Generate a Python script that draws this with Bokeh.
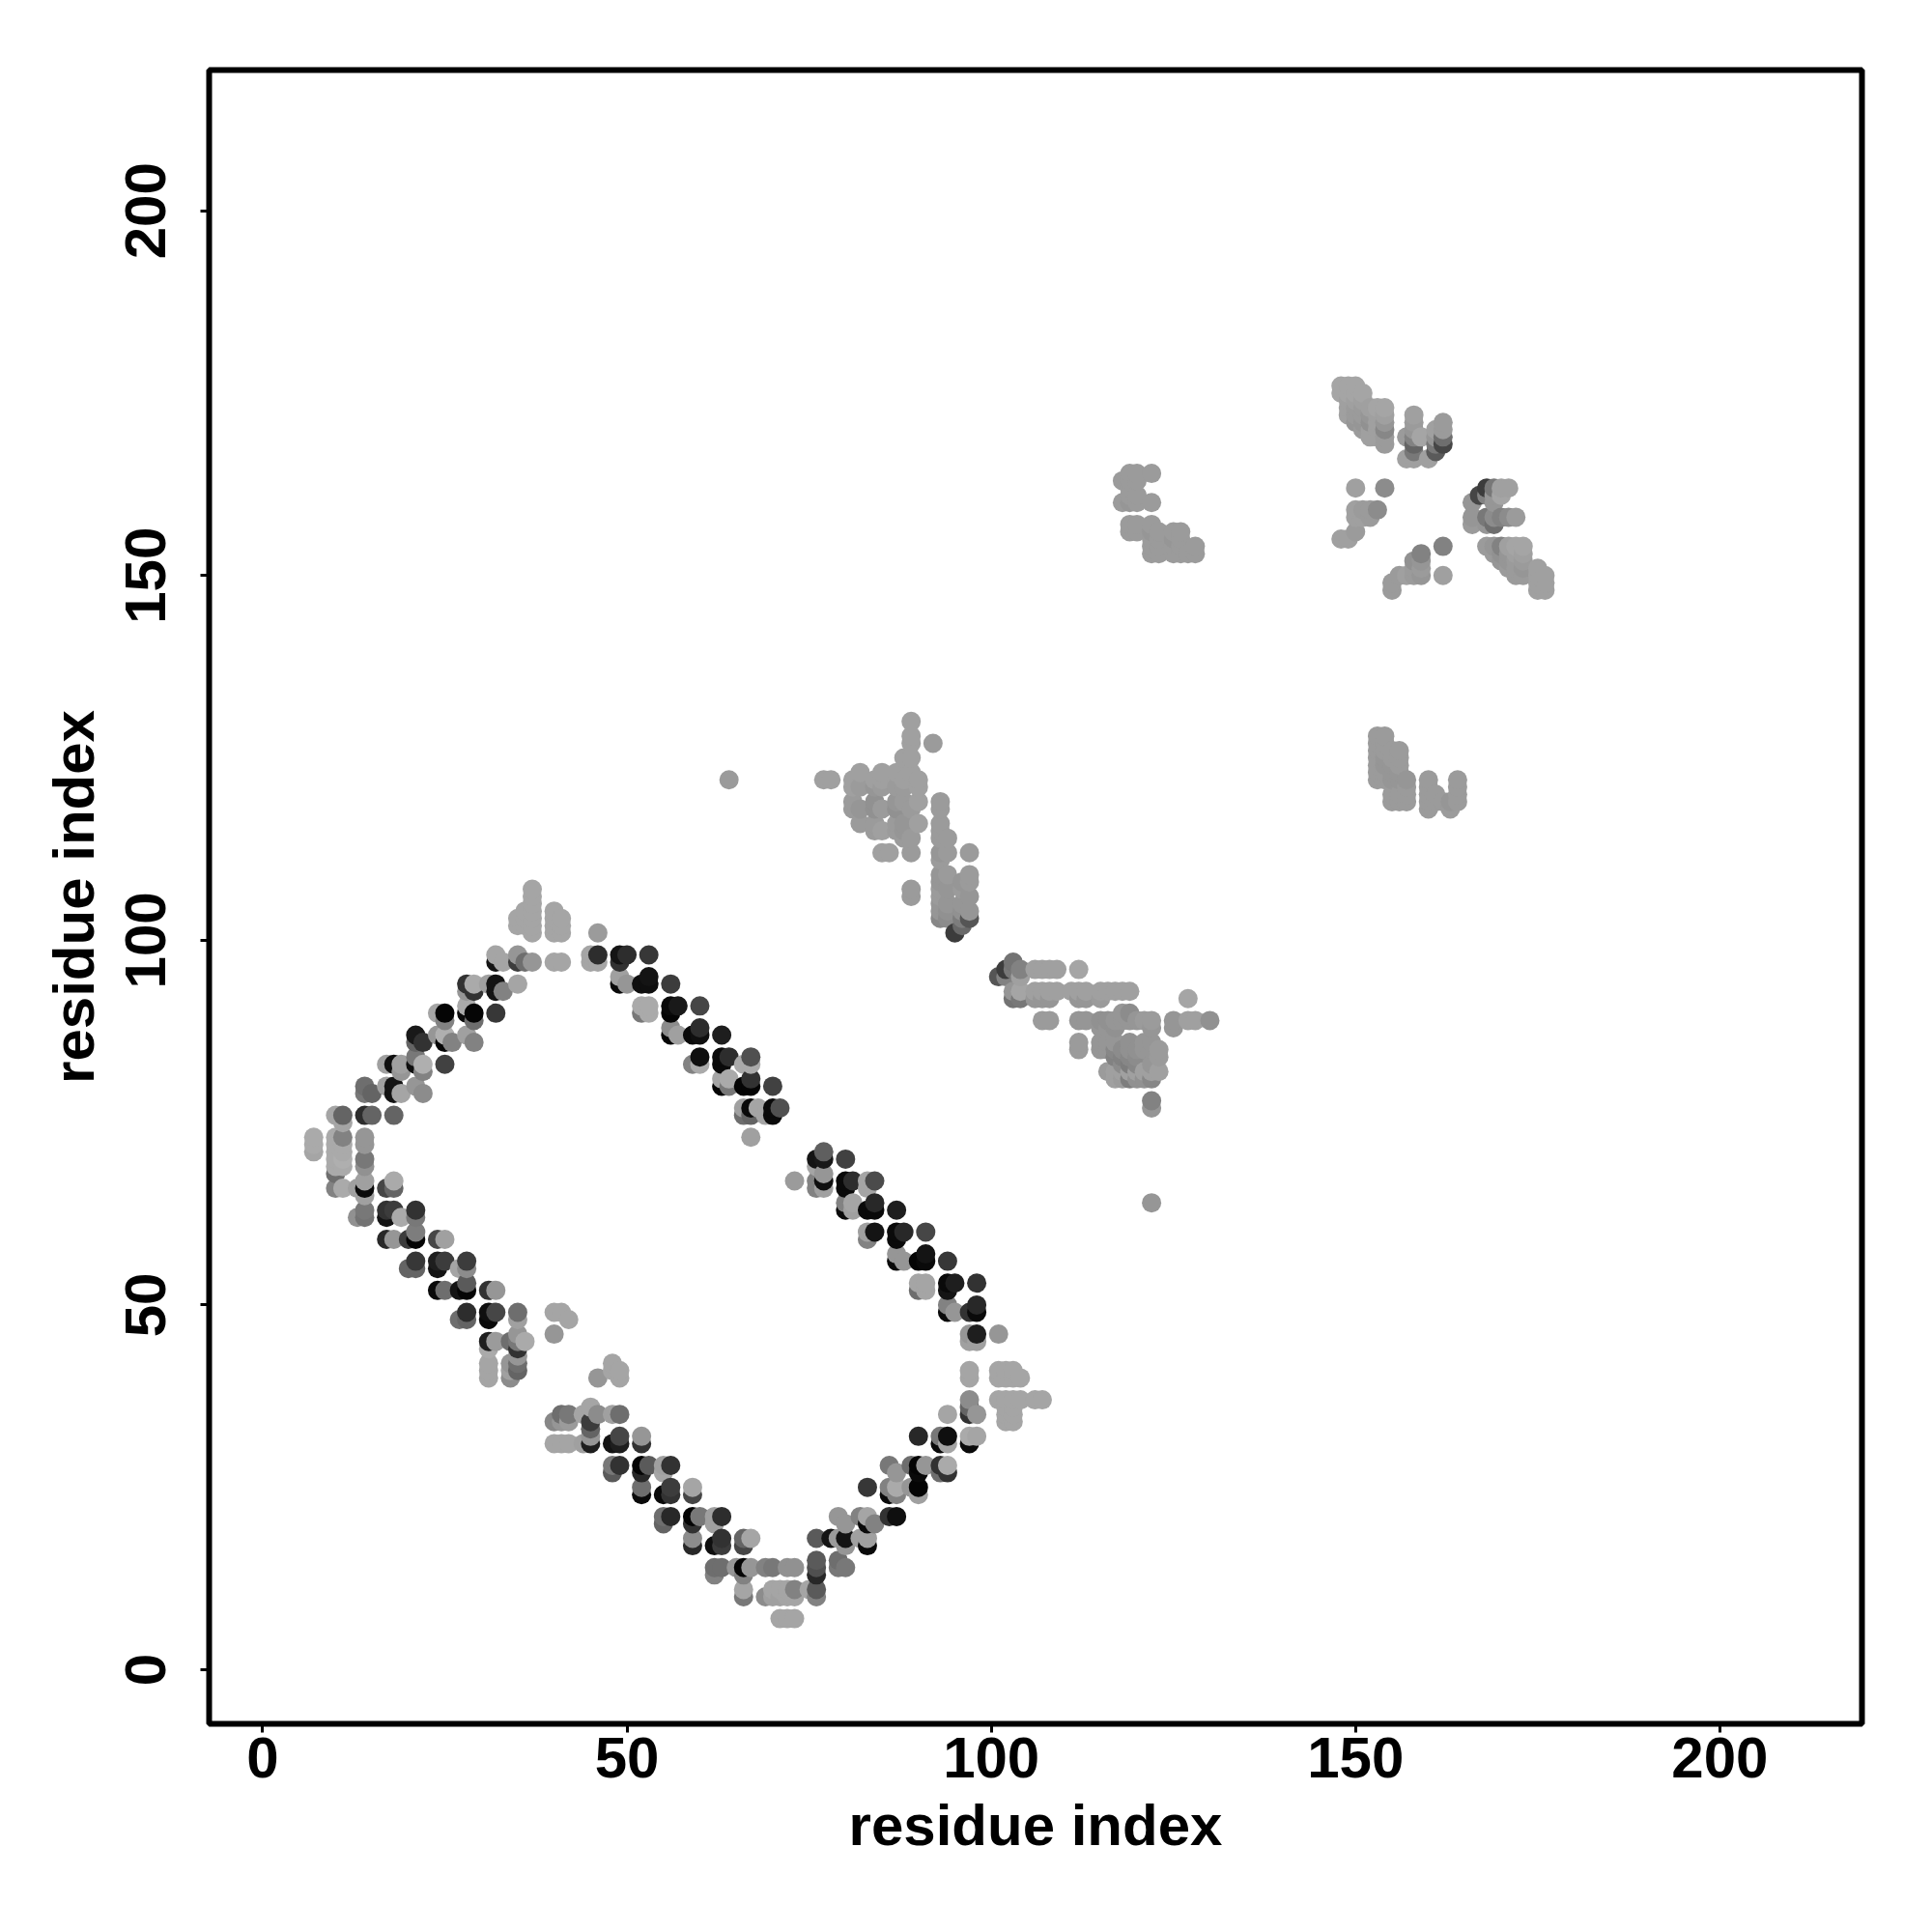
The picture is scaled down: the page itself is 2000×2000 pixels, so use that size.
from bokeh.plotting import figure
from bokeh.models import ColumnDataSource, FixedTicker
from bokeh.embed import file_html
from bokeh.resources import INLINE

x_ticks = [0, 50, 100, 150, 200]
y_ticks = [0, 50, 100, 150, 200]
x_title = "residue index"
y_title = "residue index"

# {residue_j: [(residue_i, grey), ...]}
arm_upper_left = {
 107:[(37,165)],106:[(37,165)],105:[(37,165)],
 104:[(36,165),(37,165),(40,165)],
 103:[(35,165),(36,165),(37,165),(40,165),(41,165)],
 102:[(35,165),(36,165),(37,165),(40,165),(41,165)],
 101:[(37,165),(40,165),(41,165)],
 98:[(32,165),(35,150)],
 97:[(32,20),(33,165),(35,60),(36,110),(37,150),(40,165),(41,165)],
 94:[(28,50),(29,170),(31,160),(32,20),(35,165)],
 93:[(28,150),(29,50),(32,20),(33,130)],
 91:[(28,170)],
 90:[(24,165),(25,5),(28,10),(29,5),(32,55)],
 89:[(25,130),(29,110)],
 87:[(21,25),(24,150),(25,175),(28,160)],
 86:[(21,100),(22,50),(25,5),(26,130),(29,130)],
 84:[(21,120)],
 83:[(17,160),(18,15),(19,160),(21,15),(22,175),(25,65)],
 82:[(19,150),(22,130)],
 80:[(14,110),(17,160),(18,20),(21,150)],
 79:[(14,120),(15,100),(18,20),(19,165),(22,140)],
 76:[(10,165),(11,100),(14,45),(15,100),(18,100)],
 75:[(11,165)],
 73:[(7,170),(10,170),(11,130),(14,150)],
}
arm_upper_right = {
 101:[(46,155)],
 98:[(45,165),(46,45),(49,20),(50,45),(53,55)],
 97:[(45,165),(46,165),(49,50)],
 95:[(49,160),(53,20)],
 94:[(49,10),(50,150),(52,15),(53,15),(56,60)],
 91:[(52,170),(53,170),(56,10),(57,25),(60,70)],
 90:[(52,120),(53,170),(56,5)],
 88:[(56,140),(60,45)],
 87:[(56,5),(57,160),(59,10),(60,15),(63,30)],
 84:[(60,15),(63,10),(64,45),(67,80)],
 83:[(59,130),(60,170),(63,10),(66,170),(67,170)],
 81:[(63,165),(64,170),(67,50)],
 80:[(63,5),(64,120),(66,5),(67,5),(70,65)],
 77:[(66,160),(67,10),(68,165),(70,10),(71,80)],
 76:[(66,110),(67,100),(69,165),(70,10)],
 73:[(67,160)],
}
arm_lower_left = {
 72:[(7,170),(10,170),(11,170),(14,150)],
 71:[(7,165),(10,170),(11,170)],
 70:[(10,170),(11,175),(14,120)],
 69:[(10,170),(11,170),(14,145)],
 68:[(10,110)],
 67:[(14,160),(18,170)],
 66:[(10,130),(11,170),(13,160),(14,10),(17,70),(18,100)],
 65:[(14,160)],
 63:[(14,120),(17,50),(18,60),(21,50)],
 62:[(13,145),(14,115),(17,20),(19,170),(21,120)],
 60:[(21,125)],
 59:[(17,40),(18,150),(20,60),(21,5),(24,70),(25,160)],
 56:[(21,55),(24,30),(25,60),(28,60)],
 55:[(20,100),(21,100),(24,20),(27,165),(28,140)],
 53:[(28,90)],
 52:[(24,10),(25,110),(27,20),(28,5),(31,50),(32,150)],
 49:[(28,45),(31,15),(32,70),(35,110),(40,165),(41,165)],
 48:[(27,110),(28,100),(31,10),(35,160),(42,165)],
 46:[(35,150),(40,150)],
 45:[(31,30),(32,155),(34,110),(35,120),(36,170)],
 44:[(31,170),(35,50)],
 43:[(35,150)],
 42:[(31,165),(34,150),(35,110),(48,165)],
 41:[(31,165),(34,160),(35,100),(48,165),(49,165)],
 40:[(31,165),(34,140),(46,150),(49,165)],
}
arm_bottom = {
 36:[(45,165)],
 35:[(41,110),(42,120),(44,165),(46,140),(48,160),(49,110)],
 34:[(40,135),(41,150),(42,155),(45,60)],
 33:[(45,100)],
 32:[(45,150),(49,70),(52,150),(90,40),(93,120),(94,15),(97,170),(98,165)],
 31:[(40,165),(41,165),(42,165),(44,160),(45,30),(48,20),(49,30),(52,50),(93,10),(94,165),(97,10)],
 28:[(48,120),(49,50),(52,5),(53,90),(55,160),(56,50),(86,120),(89,110),(90,5),(91,150),(93,50),(94,170)],
 27:[(48,90),(52,40),(55,165),(87,150),(90,10),(93,110),(94,50)],
 25:[(52,110),(56,60),(59,165),(83,55),(86,130),(87,170),(89,150),(90,5)],
 24:[(52,10),(55,10),(56,50),(59,70),(86,10),(87,130),(90,160)],
 21:[(55,110),(56,40),(59,5),(60,120),(62,160),(63,45),(79,150),(82,130),(83,165),(86,50),(87,15)],
 20:[(55,100),(59,50),(62,160),(80,150),(83,10),(84,130)],
 18:[(59,140),(63,50),(66,100),(67,165),(76,90),(78,20),(79,155),(80,20),(82,160),(83,160)],
 17:[(59,40),(62,15),(63,60),(66,70),(80,150),(83,10)],
 15:[(76,90),(79,110)],
 14:[(62,110),(63,110),(65,150),(66,5),(67,150),(69,130),(70,120),(72,145),(73,145),(76,80),(79,120),(80,120)],
 13:[(62,130),(66,130),(76,40)],
 11:[(66,165),(70,165),(71,165),(72,165),(73,130),(75,165),(76,90)],
 10:[(66,120),(69,140),(70,160),(71,160),(72,165),(73,165),(76,130)],
 7:[(71,165),(72,165),(73,165)],
}
arm_right = {
 71:[(77,95)],
 70:[(76,20),(77,25),(80,65)],
 69:[(76,165)],
 68:[(77,150)],
 67:[(73,155),(76,130),(77,15),(80,10),(81,45),(83,165),(84,75)],
 66:[(76,130),(77,160),(80,10),(83,165)],
 64:[(80,130),(81,165),(84,40)],
 63:[(80,10),(81,160),(83,10),(84,10),(87,30)],
 60:[(83,160),(84,20),(87,10),(88,40),(91,70)],
 59:[(83,130),(87,10)],
 57:[(87,150),(91,20)],
 56:[(87,10),(88,150),(90,5),(91,10),(94,55)],
 53:[(90,165),(91,165),(94,10),(95,30),(98,50)],
 52:[(90,110),(91,165),(94,20)],
 50:[(94,130),(98,40)],
 49:[(94,10),(95,150),(97,50),(98,10)],
 46:[(97,150),(98,30),(101,150)],
 45:[(97,160),(98,160)],
 41:[(97,165),(101,165),(102,165),(103,165)],
 40:[(97,165),(101,165),(102,165),(103,165),(104,165)],
 37:[(97,140),(101,165),(102,165),(103,165),(104,165),(106,165),(107,165)],
 36:[(97,100),(102,165),(103,165)],
 35:[(94,165),(97,50),(98,150),(102,165),(103,165)],
 34:[(102,165),(103,165)],
}
cluster_middle = {
 97:[(103,115)],
 96:[(102,60),(103,120),(104,130),(106,160),(107,160),(108,160),(109,160),(112,165)],
 95:[(101,85),(102,130),(104,160)],
 93:[(103,150),(104,165),(106,160),(107,160),(108,160),(109,160),(111,160),(112,160),(113,160),(115,160),(116,160),(117,160),(118,160),(119,160)],
 92:[(103,115),(104,120),(106,150),(107,150),(108,150),(112,150),(113,150),(115,155),(127,165)],
 90:[(118,150),(119,140)],
 89:[(107,155),(108,155),(112,150),(113,150),(115,145),(116,145),(117,150),(118,150),(119,150),(120,150),(121,155),(122,155),(125,150),(127,160),(128,160),(130,145)],
 88:[(115,150),(116,150),(117,145),(122,150),(125,150)],
 86:[(112,155),(115,150),(116,150),(117,150),(119,145),(121,150),(122,150)],
 85:[(112,155),(115,150),(116,150),(117,135),(118,140),(119,145),(120,145),(121,150),(122,150),(123,155)],
 84:[(117,130),(118,130),(119,135),(120,140),(123,155)],
 83:[(118,140),(119,125),(120,135),(122,150)],
 82:[(116,155),(117,160),(118,160),(119,160),(120,160),(121,160),(122,160),(123,160)],
 81:[(117,160),(118,155),(119,125),(120,145),(121,145),(122,135)],
 78:[(122,130)],
 77:[(122,150)],
 64:[(122,150)],
}
cluster_upper_mid = {
 130:[(89,160)],128:[(89,160)],127:[(89,160),(92,155)],125:[(88,160),(89,160)],
 123:[(82,160),(85,160),(87,160),(89,160)],
 122:[(64,155),(77,160),(78,160),(81,160),(84,160),(85,160),(88,160),(90,160)],
 121:[(81,160),(82,155),(84,150),(85,155),(87,155),(88,155),(90,160)],
 119:[(81,155),(84,145),(87,150),(88,155),(90,160),(93,155)],
 118:[(81,155),(82,150),(84,145),(85,155),(87,145),(89,155),(93,155)],
 116:[(82,155),(84,155),(87,155),(88,150),(90,160),(93,155)],
 115:[(84,155),(85,160),(87,155),(88,150),(93,155)],
 114:[(88,155),(89,155),(93,155),(94,155)],
 112:[(85,160),(86,160),(89,155),(93,150),(94,155),(97,155)],
 111:[(93,155)],
 109:[(93,150),(94,155),(97,155)],
 108:[(93,150),(96,150),(97,155)],
 107:[(89,155),(93,155),(94,150),(96,155)],
 106:[(89,155),(93,155),(97,150)],
 105:[(93,150),(94,150),(96,150)],
 104:[(93,150),(94,145),(96,145),(97,150)],
 103:[(93,135),(94,140),(96,125),(97,85)],
 102:[(96,105)],
 101:[(95,60)],
}
cluster_top_right = {
 176:[(148,165),(149,165),(150,165)],
 175:[(148,165),(149,165),(150,165),(151,165)],
 174:[(149,160),(150,160),(151,160)],
 173:[(149,160),(150,155),(151,155),(152,160),(153,165),(154,165)],
 172:[(149,160),(150,155),(151,155),(152,150),(153,160),(154,160),(158,160)],
 171:[(150,150),(151,150),(152,145),(153,160),(154,150),(158,155),(162,155)],
 170:[(151,155),(152,160),(153,160),(154,135),(158,150),(161,160),(162,155)],
 169:[(152,160),(153,160),(154,155),(157,155),(158,130),(159,165),(161,150),(162,110)],
 168:[(154,155),(158,100),(161,120),(162,70)],
 167:[(158,120),(161,90)],
 166:[(157,160),(158,160),(160,160)],
 162:[(150,160),(154,140),(168,60),(169,120),(170,160),(171,160)],
 161:[(167,70),(168,130),(169,150),(170,165)],
 160:[(166,150),(169,150)],
 159:[(150,160),(151,155),(152,155),(153,140)],
 158:[(150,160),(151,160),(152,155),(166,150),(168,120),(169,140),(170,130),(171,140),(172,155)],
 157:[(166,155),(169,110),(168,150)],
 156:[(150,155)],
 155:[(148,160),(149,160)],
 154:[(162,130),(168,155),(169,150),(170,130),(171,160),(172,165),(173,165)],
 153:[(159,130),(169,155),(170,145),(171,150),(172,160),(173,160)],
 152:[(158,145),(159,150),(170,150),(171,150),(172,155),(173,155)],
 151:[(158,155),(159,155),(171,155),(172,155),(173,150),(175,160)],
 150:[(156,155),(157,160),(158,155),(159,150),(162,160),(172,155),(173,155),(175,160),(176,160)],
 149:[(155,155),(175,160),(176,160)],
 148:[(155,155),(175,160),(176,160)],
}
cluster_upper_small = {
 164:[(119,155),(120,155),(122,155)],
 163:[(118,155),(119,155),(120,155)],
 162:[(119,155)],
 161:[(119,155),(120,155)],
 160:[(118,155),(119,150),(120,155),(122,155)],
 157:[(119,155),(120,155),(122,155)],
 156:[(119,155),(120,155),(122,150),(123,155),(125,155),(126,155)],
 155:[(122,155),(123,155),(125,150),(126,155)],
 154:[(122,155),(123,155),(125,155),(126,155),(128,155)],
 153:[(122,155),(123,155),(125,155),(126,155),(127,155),(128,155)],
}
cluster_right_small = {
 128:[(153,155),(154,155)],
 127:[(153,155),(154,155)],
 126:[(153,155),(154,155),(155,155),(156,155)],
 125:[(153,155),(154,150),(155,155),(156,155)],
 124:[(153,155),(154,150),(155,150),(156,155)],
 123:[(153,155),(154,155),(155,150),(156,150)],
 122:[(153,155),(154,155),(155,150),(156,150),(157,150),(160,155),(164,155)],
 121:[(157,155),(160,155),(164,155)],
 120:[(155,155),(156,155),(157,155),(160,155),(161,155),(164,155)],
 119:[(155,155),(156,155),(157,155),(160,155),(161,155),(162,155),(163,150),(164,155)],
 118:[(160,155),(163,155)],
}

groups = [arm_upper_left, arm_upper_right, arm_lower_left, arm_bottom, arm_right, cluster_middle,
          cluster_upper_mid, cluster_top_right, cluster_upper_small, cluster_right_small]
merged = {}
for g in groups:
    for j, row in g.items():
        for i, v in row:
            merged[(i, j)] = v
keys = sorted(merged)
xs = [k[0] for k in keys]
ys = [k[1] for k in keys]
cols = ["#%02x%02x%02x" % (merged[k], merged[k], merged[k]) for k in keys]

src = ColumnDataSource(dict(x=xs, y=ys, c=cols))

p = figure(width=1990, height=1990, output_backend="svg", toolbar_location=None,
           x_range=(-7.35, 219.5), y_range=(-7.42, 219.3),
           min_border_left=216, min_border_right=63, min_border_top=72, min_border_bottom=206)
p.scatter("x", "y", source=src, size=20, fill_color="c", line_color=None, marker="circle")

p.grid.visible = False
p.outline_line_color = "black"
p.outline_line_width = 6
p.background_fill_color = "white"

for ax, ticks, title in ((p.xaxis[0], x_ticks, x_title), (p.yaxis[0], y_ticks, y_title)):
    ax.ticker = FixedTicker(ticks=ticks)
    ax.axis_label = title
    ax.axis_line_color = None
    ax.major_tick_in = 0
    ax.major_tick_out = 9
    ax.major_tick_line_width = 3
    ax.major_tick_line_color = "black"
    ax.minor_tick_line_color = None
    ax.major_label_text_font = "Liberation Sans"
    ax.major_label_text_font_style = "bold"
    ax.major_label_text_font_size = "60px"
    ax.major_label_text_color = "black"
    ax.axis_label_text_font = "Liberation Sans"
    ax.axis_label_text_font_style = "bold"
    ax.axis_label_text_font_size = "60px"
    ax.axis_label_text_color = "black"
p.yaxis[0].major_label_orientation = "parallel"
p.xaxis[0].major_label_standoff = 5
p.yaxis[0].major_label_standoff = 36
p.xaxis[0].axis_label_standoff = 13
p.yaxis[0].axis_label_standoff = 18

open("out.html", "w").write(file_html(p, INLINE))
